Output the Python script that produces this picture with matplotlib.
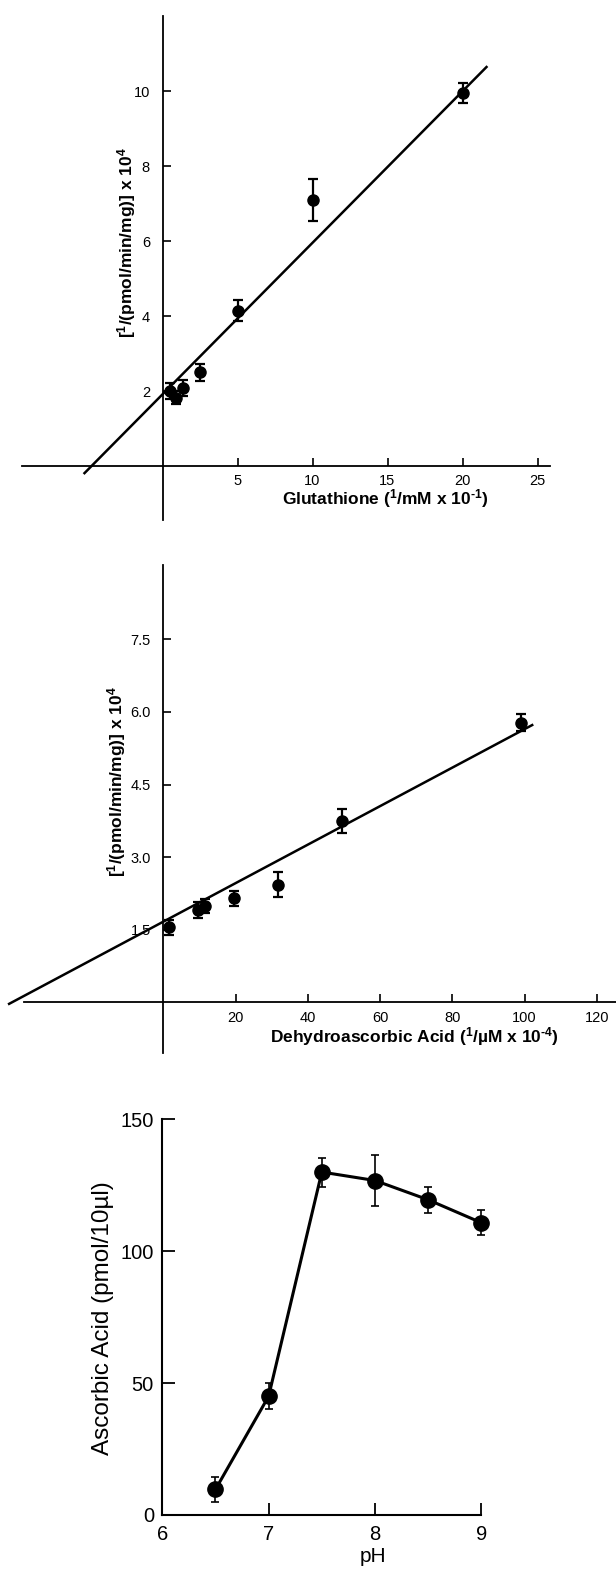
import numpy as np
import matplotlib
matplotlib.use("Agg")
import matplotlib.pyplot as plt

plt.rcParams['font.family'] = ['Liberation Sans', 'DejaVu Sans']
plt.rcParams['mathtext.fontset'] = 'custom'
# only the bold axis labels use mathtext, so make the math font bold too
plt.rcParams['mathtext.rm'] = 'Liberation Sans:bold'
plt.rcParams['mathtext.it'] = 'Liberation Sans:bold'
plt.rcParams['mathtext.bf'] = 'Liberation Sans:bold'

# panel A: glutathione double reciprocal
gsh_x = [0.5, 0.9, 1.35, 2.5, 5.0, 10.0, 20.0]
gsh_y = [2.0, 1.82, 2.08, 2.5, 4.14, 7.1, 9.95]
gsh_err = [0.22, 0.17, 0.22, 0.22, 0.28, 0.56, 0.26]
gsh_fit_x = [-5.2, 21.6]
gsh_fit_y = [-0.19, 10.64]

# panel B: dehydroascorbic acid double reciprocal
dha_x = [1.6, 9.5, 11.5, 19.6, 31.8, 49.5, 99.0]
dha_y = [1.55, 1.91, 1.99, 2.15, 2.43, 3.75, 5.78]
dha_err = [0.15, 0.16, 0.14, 0.16, 0.26, 0.24, 0.18]
dha_fit_x = [-42.7, 102.1]
dha_fit_y = [-0.03, 5.73]

# panel C: pH profile
ph = [6.5, 7.0, 7.5, 8.0, 8.5, 9.0]
asc = [9.7, 45.0, 130.0, 126.8, 119.5, 110.8]
asc_err = [4.7, 5.0, 5.5, 9.6, 5.0, 4.8]

W, H = 616, 1570
fig = plt.figure(figsize=(W / 100, H / 100), dpi=100)


def px_axes(l, r, t, b):
    return fig.add_axes([l / W, 1 - b / H, (r - l) / W, (b - t) / H])


def cross_axes(ax, xb, yb):
    for s in ['top', 'right']:
        ax.spines[s].set_visible(False)
    ax.spines['left'].set_position(('data', 0))
    ax.spines['bottom'].set_position(('data', 0))
    ax.spines['left'].set_bounds(*yb)
    ax.spines['bottom'].set_bounds(*xb)
    for s in ['left', 'bottom']:
        ax.spines[s].set_linewidth(1.3)
    ax.patch.set_visible(False)
    ax.tick_params(direction='in', length=6, width=1.2, labelsize=10.5)
    ax.tick_params(axis='x', pad=6)
    ax.tick_params(axis='y', pad=9)


def ftext(x, y, s, **kw):
    fig.text(x / W, 1 - y / H, s, ha='center', va='center', **kw)


ylab = r'[$^{1}$/(pmol/min/mg)] x 10$^{4}$'

# ---- panel A
ax1 = px_axes(20, 560, 10, 525)
ax1.set_xlim(-9.5, 26.5)
ax1.set_ylim(-1.573, 12.16)
cross_axes(ax1, (-9.37, 25.8), (-1.44, 12.0))
ax1.set_xticks([5, 10, 15, 20, 25])
ax1.set_yticks([2, 4, 6, 8, 10])
ax1.plot(gsh_fit_x, gsh_fit_y, color='black', lw=1.8)
ax1.errorbar(gsh_x, gsh_y, yerr=gsh_err, fmt='o', color='black', ms=8,
             elinewidth=1.6, capsize=3.5, capthick=1.6)
ftext(127, 243, ylab, rotation=90, fontsize=12.5, fontweight='bold')
ftext(385, 499, r'Glutathione ($^{1}$/mM x 10$^{\text{-}1}$)',
      fontsize=12.5, fontweight='bold')

# ---- panel B
ax2 = px_axes(5, 616, 560, 1060)
ax2.set_xlim(-43.84, 125.3)
ax2.set_ylim(-1.19, 9.14)
cross_axes(ax2, (-38.5, 125.3), (-1.04, 9.04))
ax2.set_xticks([20, 40, 60, 80, 100, 120])
ax2.set_yticks([1.5, 3.0, 4.5, 6.0, 7.5])
ax2.set_yticklabels(['1.5', '3.0', '4.5', '6.0', '7.5'])
ax2.plot(dha_fit_x, dha_fit_y, color='black', lw=1.8)
ax2.errorbar(dha_x, dha_y, yerr=dha_err, fmt='o', color='black', ms=8,
             elinewidth=1.6, capsize=3.5, capthick=1.6)
ftext(117, 782, ylab, rotation=90, fontsize=12.5, fontweight='bold')
ftext(414, 1037, r'Dehydroascorbic Acid ($^{1}$/µM x 10$^{\text{-}4}$)',
      fontsize=12.5, fontweight='bold')

# ---- panel C
ax3 = px_axes(162.3, 481.3, 1119.3, 1515)
ax3.set_xlim(6, 9)
ax3.set_ylim(0, 150)
for s in ['top', 'right']:
    ax3.spines[s].set_visible(False)
for s in ['left', 'bottom']:
    ax3.spines[s].set_linewidth(1.5)
ax3.patch.set_visible(False)
ax3.set_xticks([6, 7, 8, 9])
ax3.set_yticks([0, 50, 100, 150])
ax3.tick_params(direction='in', length=9, width=1.3, labelsize=14.5)
ax3.tick_params(axis='x', pad=7)
ax3.tick_params(axis='y', pad=6)
ax3.errorbar(ph, asc, yerr=asc_err, fmt='-o', color='black', ms=11, lw=2.2,
             elinewidth=1.2, capsize=3, capthick=1.2, clip_on=False)
ftext(103, 1318, 'Ascorbic Acid (pmol/10µl)', rotation=90, fontsize=17.5)
ftext(373, 1557, 'pH', fontsize=15)

fig.savefig('out.png', dpi=100)
